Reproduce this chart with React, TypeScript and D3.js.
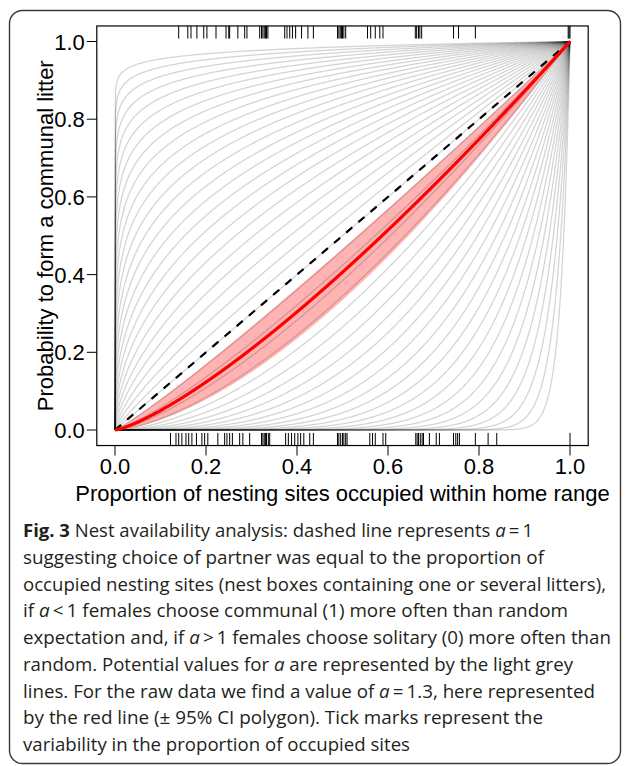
import React from "react";
import * as d3 from "d3";

// exponents a of the light grey curves p = x^a
const greyExponents = [
  0.02, 0.0298, 0.0411, 0.0539, 0.0683, 0.0843, 0.1021, 0.1218, 0.1435, 0.1675,
  0.1938, 0.2227, 0.2545, 0.2893, 0.3275, 0.3695, 0.4155, 0.4661, 0.5218, 0.5831,
  0.6506, 0.7251, 0.8075, 0.8987, 1.0, 1.113, 1.238, 1.379, 1.537, 1.715, 1.917,
  2.145, 2.406, 2.707, 3.053, 3.457, 3.93, 4.49, 5.161, 5.971, 6.967, 8.211, 9.795,
  11.86, 14.65, 18.56, 24.33, 33.55, 50,
];

// fitted exponent and 95% CI exponents
const fitA = 1.3;
const ciLowerA = 1.1;
const ciUpperA = 1.58;

// rug: proportions where a communal litter was formed (top) / solitary (bottom)
const rugCommunal = [
  0.14, 0.16, 0.167, 0.18, 0.195, 0.202, 0.222, 0.244, 0.25, 0.252, 0.27, 0.285, 0.29,
  0.318, 0.322, 0.325, 0.328, 0.331, 0.333, 0.336, 0.373, 0.378, 0.384, 0.39, 0.397,
  0.41, 0.424, 0.436, 0.489, 0.492, 0.495, 0.498, 0.5, 0.503, 0.507, 0.555, 0.562,
  0.572, 0.582, 0.589, 0.66, 0.663, 0.667, 0.67, 0.674, 0.744, 0.755, 0.792, 0.996,
  0.998, 1.0,
];
const rugSolitary = [
  0.122, 0.134, 0.14, 0.147, 0.156, 0.162, 0.169, 0.179, 0.191, 0.197, 0.204, 0.226,
  0.241, 0.246, 0.252, 0.258, 0.274, 0.281, 0.296, 0.322, 0.325, 0.328, 0.331, 0.333,
  0.337, 0.34, 0.375, 0.381, 0.388, 0.395, 0.402, 0.408, 0.415, 0.428, 0.436, 0.489,
  0.492, 0.496, 0.5, 0.503, 0.507, 0.51, 0.56, 0.566, 0.572, 0.589, 0.595, 0.661,
  0.664, 0.667, 0.671, 0.675, 0.678, 0.691, 0.706, 0.713, 0.744, 0.749, 0.753, 0.757,
  0.792, 0.82, 0.839, 1.0,
];

const axisTicks = [0, 0.2, 0.4, 0.6, 0.8, 1.0];
const xTitle = "Proportion of nesting sites occupied within home range";
const yTitle = "Probability to form a communal litter";

type Seg = { t: string; b?: boolean; i?: boolean };
const captionLines: Seg[][] = [
  [{ t: "Fig. 3", b: true }, { t: " Nest availability analysis: dashed line represents " }, { t: "a", i: true }, { t: "\u2009=\u20091" }],
  [{ t: "suggesting choice of partner was equal to the proportion of" }],
  [{ t: "occupied nesting sites (nest boxes containing one or several litters)," }],
  [{ t: "if " }, { t: "a", i: true }, { t: "\u2009<\u20091 females choose communal (1) more often than random" }],
  [{ t: "expectation and, if " }, { t: "a", i: true }, { t: "\u2009>\u20091 females choose solitary (0) more often than" }],
  [{ t: "random. Potential values for " }, { t: "a", i: true }, { t: " are represented by the light grey" }],
  [{ t: "lines. For the raw data we find a value of " }, { t: "a", i: true }, { t: "\u2009=\u20091.3, here represented" }],
  [{ t: "by the red line (\u00b1 95% CI polygon). Tick marks represent the" }],
  [{ t: "variability in the proportion of occupied sites" }],
];
const captionLineEnds = [533, 544, 606, 568, 611, 573, 595, 543, 410];

export default function App() {
  const W = 627;
  const H = 766;
  const x = d3.scaleLinear().domain([0, 1]).range([115, 570]);
  const y = d3.scaleLinear().domain([0, 1]).range([430, 41.5]);
  const bx0 = x(-0.04), bx1 = x(1.04), by0 = y(1.04), by1 = y(-0.04);
  const rugLen = 0.03 * (by1 - by0);

  const grid = d3.range(0, 1001).map((i) => i / 1000);
  const line = d3
    .line<number>()
    .x((d) => x(d))
    .y((d) => y(d));
  const curve = (a: number) =>
    d3
      .line<number>()
      .x((d) => x(d))
      .y((d) => y(Math.pow(d, a)))(grid) as string;

  const band = d3
    .area<number>()
    .x((d) => x(d))
    .y0((d) => y(Math.pow(d, ciUpperA)))
    .y1((d) => y(Math.pow(d, ciLowerA)))(grid) as string;

  const font = "'Liberation Sans', Arial, Helvetica, sans-serif";
  const capFont = "'Open Sans', 'Noto Sans', sans-serif";
  const capX = 23;
  const capY0 = 537;
  const capDy = 26.75;

  return (
    <svg
      width={W}
      height={H}
      style={{ position: "absolute", left: 0, top: 0, background: "#fff" }}
    >
      <rect x={0} y={0} width={W} height={H} fill="#fff" />
      <rect
        x={9.5}
        y={10.5}
        width={611}
        height={753}
        rx={13}
        ry={13}
        fill="none"
        stroke="#3a3a3a"
        strokeWidth={1.4}
      />
      {/* CI polygon */}
      <path d={band} fill="#ffb3b3" stroke="none" />
      {/* grey curves */}
      <g fill="none" stroke="#000" strokeOpacity={0.17} strokeWidth={1.3}>
        {greyExponents.map((a, i) => (
          <path key={i} d={curve(a)} />
        ))}
      </g>
      {/* dashed 1:1 */}
      <path
        d={line([0, 1]) as string}
        fill="none"
        stroke="#000"
        strokeWidth={2.2}
        strokeDasharray="8,8"
      />
      {/* fitted line */}
      <path d={curve(fitA)} fill="none" stroke="#ff0000" strokeWidth={3.2} />
      {/* rugs */}
      <g stroke="#000" strokeWidth={1}>
        {rugCommunal.map((v, i) => (
          <line key={"t" + i} x1={x(v)} x2={x(v)} y1={by0} y2={by0 + rugLen} />
        ))}
        {rugSolitary.map((v, i) => (
          <line key={"b" + i} x1={x(v)} x2={x(v)} y1={by1} y2={by1 - rugLen} />
        ))}
      </g>
      {/* box */}
      <rect
        x={bx0}
        y={by0}
        width={bx1 - bx0}
        height={by1 - by0}
        fill="none"
        stroke="#000"
        strokeWidth={1.2}
      />
      {/* axes */}
      <g fontFamily={font} fontSize={22} fill="#000">
        {axisTicks.map((t) => (
          <g key={"x" + t}>
            <line x1={x(t)} x2={x(t)} y1={by1} y2={by1 + 10} stroke="#000" strokeWidth={1} />
            <text x={x(t)} y={474} textAnchor="middle">
              {t.toFixed(1)}
            </text>
          </g>
        ))}
        {axisTicks.map((t) => (
          <g key={"y" + t}>
            <line x1={bx0 - 10} x2={bx0} y1={y(t)} y2={y(t)} stroke="#000" strokeWidth={1} />
            <text x={bx0 - 12} y={y(t) + 8} textAnchor="end">
              {t.toFixed(1)}
            </text>
          </g>
        ))}
        <text x={x(0.5)} y={501} textAnchor="middle">
          {xTitle}
        </text>
        <text
          transform={`translate(53, ${y(0.5)}) rotate(-90)`}
          textAnchor="middle"
        >
          {yTitle}
        </text>
      </g>
      {/* caption */}
      <g fontFamily={capFont} fontSize={18.5} fill="#231f20">
        {captionLines.map((segs, li) => (
          <text
            key={li}
            x={capX}
            y={capY0 + li * capDy}
            textLength={captionLineEnds[li] - capX}
            lengthAdjust="spacingAndGlyphs"
          >
            {segs.map((s, si) => (
              <tspan
                key={si}
                fontWeight={s.b ? 700 : 400}
                fontStyle={s.i ? "italic" : "normal"}
              >
                {s.t}
              </tspan>
            ))}
          </text>
        ))}
      </g>
    </svg>
  );
}
